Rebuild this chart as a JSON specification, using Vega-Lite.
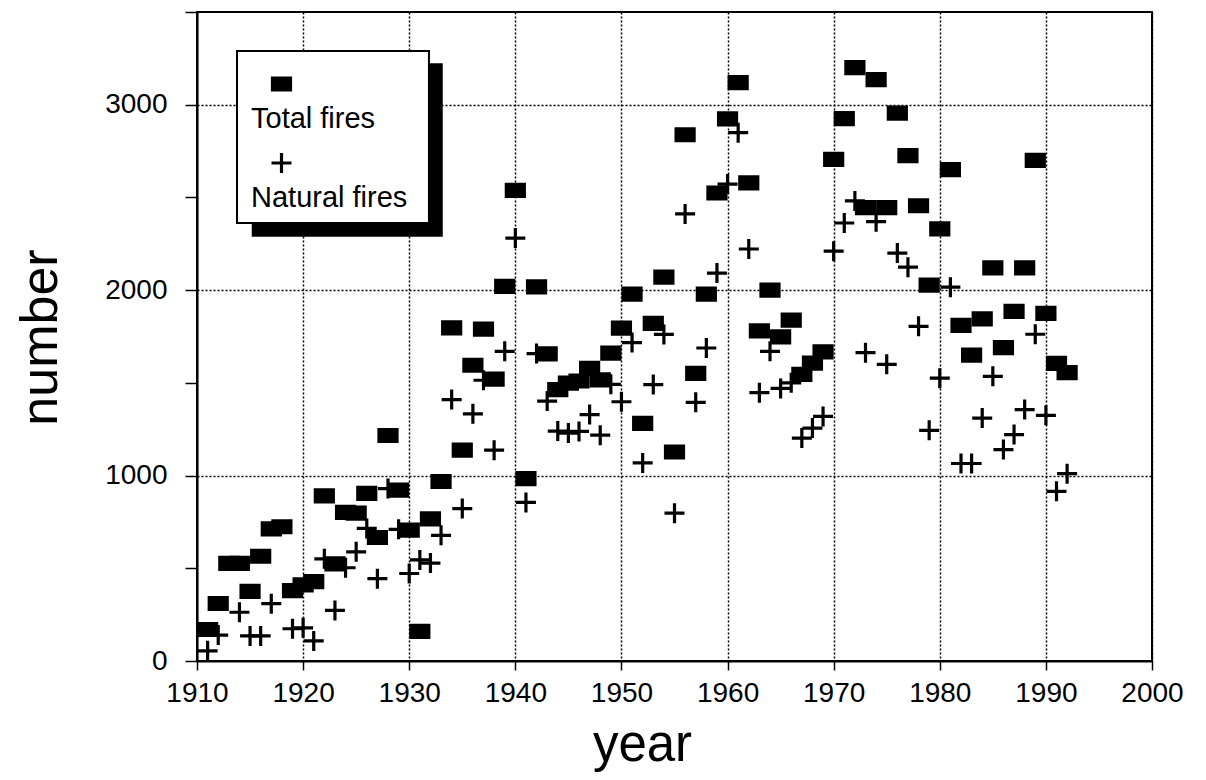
{
  "$schema": "https://vega.github.io/schema/vega-lite/v6.json",
  "width": 955,
  "height": 649,
  "autosize": {"type": "none"},
  "padding": {"left": 197, "top": 12, "right": 54, "bottom": 119},
  "background": "white",
  "config": {
    "view": {"stroke": "black", "strokeWidth": 2},
    "font": "Liberation Sans"
  },
  "datasets": {
    "fires": [
      {"year": 1911, "series": "Natural fires", "value": 55},
      {"year": 1912, "series": "Natural fires", "value": 140},
      {"year": 1914, "series": "Natural fires", "value": 263},
      {"year": 1915, "series": "Natural fires", "value": 135},
      {"year": 1916, "series": "Natural fires", "value": 135},
      {"year": 1917, "series": "Natural fires", "value": 309},
      {"year": 1919, "series": "Natural fires", "value": 174},
      {"year": 1920, "series": "Natural fires", "value": 179},
      {"year": 1921, "series": "Natural fires", "value": 108},
      {"year": 1922, "series": "Natural fires", "value": 551},
      {"year": 1923, "series": "Natural fires", "value": 273},
      {"year": 1924, "series": "Natural fires", "value": 503},
      {"year": 1925, "series": "Natural fires", "value": 589},
      {"year": 1926, "series": "Natural fires", "value": 715},
      {"year": 1927, "series": "Natural fires", "value": 444},
      {"year": 1928, "series": "Natural fires", "value": 930},
      {"year": 1929, "series": "Natural fires", "value": 710},
      {"year": 1930, "series": "Natural fires", "value": 472},
      {"year": 1931, "series": "Natural fires", "value": 545},
      {"year": 1932, "series": "Natural fires", "value": 528},
      {"year": 1933, "series": "Natural fires", "value": 678},
      {"year": 1934, "series": "Natural fires", "value": 1410},
      {"year": 1935, "series": "Natural fires", "value": 822},
      {"year": 1936, "series": "Natural fires", "value": 1333},
      {"year": 1937, "series": "Natural fires", "value": 1514},
      {"year": 1938, "series": "Natural fires", "value": 1137},
      {"year": 1939, "series": "Natural fires", "value": 1670},
      {"year": 1940, "series": "Natural fires", "value": 2281},
      {"year": 1941, "series": "Natural fires", "value": 855},
      {"year": 1942, "series": "Natural fires", "value": 1658},
      {"year": 1943, "series": "Natural fires", "value": 1402},
      {"year": 1944, "series": "Natural fires", "value": 1240},
      {"year": 1945, "series": "Natural fires", "value": 1229},
      {"year": 1946, "series": "Natural fires", "value": 1238},
      {"year": 1947, "series": "Natural fires", "value": 1329},
      {"year": 1948, "series": "Natural fires", "value": 1218},
      {"year": 1949, "series": "Natural fires", "value": 1492},
      {"year": 1950, "series": "Natural fires", "value": 1398},
      {"year": 1951, "series": "Natural fires", "value": 1717},
      {"year": 1952, "series": "Natural fires", "value": 1068},
      {"year": 1953, "series": "Natural fires", "value": 1491},
      {"year": 1954, "series": "Natural fires", "value": 1761},
      {"year": 1955, "series": "Natural fires", "value": 797},
      {"year": 1956, "series": "Natural fires", "value": 2411},
      {"year": 1957, "series": "Natural fires", "value": 1395},
      {"year": 1958, "series": "Natural fires", "value": 1688},
      {"year": 1959, "series": "Natural fires", "value": 2092},
      {"year": 1960, "series": "Natural fires", "value": 2572},
      {"year": 1961, "series": "Natural fires", "value": 2849},
      {"year": 1962, "series": "Natural fires", "value": 2222},
      {"year": 1963, "series": "Natural fires", "value": 1447},
      {"year": 1964, "series": "Natural fires", "value": 1670},
      {"year": 1965, "series": "Natural fires", "value": 1470},
      {"year": 1966, "series": "Natural fires", "value": 1500},
      {"year": 1967, "series": "Natural fires", "value": 1202},
      {"year": 1968, "series": "Natural fires", "value": 1256},
      {"year": 1969, "series": "Natural fires", "value": 1319},
      {"year": 1970, "series": "Natural fires", "value": 2210},
      {"year": 1971, "series": "Natural fires", "value": 2362},
      {"year": 1972, "series": "Natural fires", "value": 2481},
      {"year": 1973, "series": "Natural fires", "value": 1663},
      {"year": 1974, "series": "Natural fires", "value": 2369},
      {"year": 1975, "series": "Natural fires", "value": 1600},
      {"year": 1976, "series": "Natural fires", "value": 2200},
      {"year": 1977, "series": "Natural fires", "value": 2124},
      {"year": 1978, "series": "Natural fires", "value": 1805},
      {"year": 1979, "series": "Natural fires", "value": 1244},
      {"year": 1980, "series": "Natural fires", "value": 1525},
      {"year": 1981, "series": "Natural fires", "value": 2016},
      {"year": 1982, "series": "Natural fires", "value": 1065},
      {"year": 1983, "series": "Natural fires", "value": 1065},
      {"year": 1984, "series": "Natural fires", "value": 1310},
      {"year": 1985, "series": "Natural fires", "value": 1535},
      {"year": 1986, "series": "Natural fires", "value": 1140},
      {"year": 1987, "series": "Natural fires", "value": 1221},
      {"year": 1988, "series": "Natural fires", "value": 1356},
      {"year": 1989, "series": "Natural fires", "value": 1762},
      {"year": 1990, "series": "Natural fires", "value": 1325},
      {"year": 1991, "series": "Natural fires", "value": 915},
      {"year": 1992, "series": "Natural fires", "value": 1010},
      {"year": 1911, "series": "Total fires", "value": 170},
      {"year": 1912, "series": "Total fires", "value": 310},
      {"year": 1913, "series": "Total fires", "value": 527},
      {"year": 1914, "series": "Total fires", "value": 527},
      {"year": 1915, "series": "Total fires", "value": 376},
      {"year": 1916, "series": "Total fires", "value": 565},
      {"year": 1917, "series": "Total fires", "value": 713},
      {"year": 1918, "series": "Total fires", "value": 724},
      {"year": 1919, "series": "Total fires", "value": 380},
      {"year": 1920, "series": "Total fires", "value": 410},
      {"year": 1921, "series": "Total fires", "value": 428},
      {"year": 1922, "series": "Total fires", "value": 890},
      {"year": 1923, "series": "Total fires", "value": 524},
      {"year": 1924, "series": "Total fires", "value": 801},
      {"year": 1925, "series": "Total fires", "value": 798},
      {"year": 1926, "series": "Total fires", "value": 904},
      {"year": 1927, "series": "Total fires", "value": 666},
      {"year": 1928, "series": "Total fires", "value": 1216},
      {"year": 1929, "series": "Total fires", "value": 922},
      {"year": 1930, "series": "Total fires", "value": 706},
      {"year": 1931, "series": "Total fires", "value": 160},
      {"year": 1932, "series": "Total fires", "value": 766},
      {"year": 1933, "series": "Total fires", "value": 968},
      {"year": 1934, "series": "Total fires", "value": 1797},
      {"year": 1935, "series": "Total fires", "value": 1137},
      {"year": 1936, "series": "Total fires", "value": 1595},
      {"year": 1937, "series": "Total fires", "value": 1790},
      {"year": 1938, "series": "Total fires", "value": 1520},
      {"year": 1939, "series": "Total fires", "value": 2020},
      {"year": 1940, "series": "Total fires", "value": 2538},
      {"year": 1941, "series": "Total fires", "value": 984},
      {"year": 1942, "series": "Total fires", "value": 2018},
      {"year": 1943, "series": "Total fires", "value": 1656},
      {"year": 1944, "series": "Total fires", "value": 1464},
      {"year": 1945, "series": "Total fires", "value": 1499},
      {"year": 1946, "series": "Total fires", "value": 1510},
      {"year": 1947, "series": "Total fires", "value": 1578},
      {"year": 1948, "series": "Total fires", "value": 1516},
      {"year": 1949, "series": "Total fires", "value": 1660},
      {"year": 1950, "series": "Total fires", "value": 1795},
      {"year": 1951, "series": "Total fires", "value": 1979},
      {"year": 1952, "series": "Total fires", "value": 1282},
      {"year": 1953, "series": "Total fires", "value": 1821},
      {"year": 1954, "series": "Total fires", "value": 2070},
      {"year": 1955, "series": "Total fires", "value": 1127},
      {"year": 1956, "series": "Total fires", "value": 2838},
      {"year": 1957, "series": "Total fires", "value": 1551},
      {"year": 1958, "series": "Total fires", "value": 1979},
      {"year": 1959, "series": "Total fires", "value": 2524},
      {"year": 1960, "series": "Total fires", "value": 2924},
      {"year": 1961, "series": "Total fires", "value": 3119},
      {"year": 1962, "series": "Total fires", "value": 2578},
      {"year": 1963, "series": "Total fires", "value": 1780},
      {"year": 1964, "series": "Total fires", "value": 2000},
      {"year": 1965, "series": "Total fires", "value": 1748},
      {"year": 1966, "series": "Total fires", "value": 1838},
      {"year": 1967, "series": "Total fires", "value": 1546},
      {"year": 1968, "series": "Total fires", "value": 1606},
      {"year": 1969, "series": "Total fires", "value": 1667},
      {"year": 1970, "series": "Total fires", "value": 2705},
      {"year": 1971, "series": "Total fires", "value": 2925},
      {"year": 1972, "series": "Total fires", "value": 3200},
      {"year": 1973, "series": "Total fires", "value": 2445},
      {"year": 1974, "series": "Total fires", "value": 3135},
      {"year": 1975, "series": "Total fires", "value": 2445},
      {"year": 1976, "series": "Total fires", "value": 2955},
      {"year": 1977, "series": "Total fires", "value": 2725},
      {"year": 1978, "series": "Total fires", "value": 2455},
      {"year": 1979, "series": "Total fires", "value": 2027},
      {"year": 1980, "series": "Total fires", "value": 2330},
      {"year": 1981, "series": "Total fires", "value": 2650},
      {"year": 1982, "series": "Total fires", "value": 1810},
      {"year": 1983, "series": "Total fires", "value": 1650},
      {"year": 1984, "series": "Total fires", "value": 1845},
      {"year": 1985, "series": "Total fires", "value": 2120},
      {"year": 1986, "series": "Total fires", "value": 1690},
      {"year": 1987, "series": "Total fires", "value": 1885},
      {"year": 1988, "series": "Total fires", "value": 2120},
      {"year": 1989, "series": "Total fires", "value": 2700},
      {"year": 1990, "series": "Total fires", "value": 1875},
      {"year": 1991, "series": "Total fires", "value": 1605},
      {"year": 1992, "series": "Total fires", "value": 1555}
    ]
  },
  "layer": [
    {
      "data": {"name": "fires"},
      "mark": {"type": "point", "filled": true, "fill": "black", "stroke": "black", "strokeWidth": 3.2, "opacity": 1, "size": 400},
      "encoding": {
        "x": {
          "field": "year", "type": "quantitative", "title": "year",
          "scale": {"domain": [1910, 2000], "nice": false, "zero": false},
          "axis": {
            "values": [1910, 1920, 1930, 1940, 1950, 1960, 1970, 1980, 1990, 2000],
            "format": "d",
            "title": "year",
            "titleFont": "Liberation Sans", "titleFontSize": 51, "titleFontWeight": "normal", "titleColor": "black",
            "titleX": 445, "titleY": 99, "titleAlign": "center", "titleBaseline": "alphabetic",
            "labelFont": "Liberation Sans", "labelFontSize": 28, "labelColor": "black", "labelPadding": 9,
            "labelOverlap": false, "labelFlush": false,
            "tickColor": "black", "tickSize": 9, "tickWidth": 1.5,
            "domainColor": "black", "domainWidth": 2,
            "grid": true, "gridColor": "black", "gridDash": [2, 2], "gridWidth": 1.5, "gridOpacity": 1
          }
        },
        "y": {
          "field": "value", "type": "quantitative", "title": "number",
          "scale": {"domain": [0, 3500], "nice": false},
          "axis": {
            "values": [0, 500, 1000, 1500, 2000, 2500, 3000, 3500],
            "format": "d",
            "labelExpr": "datum.value % 1000 === 0 ? datum.label : ''",
            "title": "number",
            "titleFont": "Liberation Sans", "titleFontSize": 52, "titleFontWeight": "normal", "titleColor": "black",
            "titleX": -141, "titleY": 325, "titleAlign": "center", "titleBaseline": "alphabetic", "titleAngle": 270,
            "labelFont": "Liberation Sans", "labelFontSize": 28, "labelColor": "black", "labelPadding": 18,
            "labelOverlap": false, "labelFlush": false,
            "tickColor": "black", "tickSize": 12, "tickWidth": 1.5,
            "domainColor": "black", "domainWidth": 2,
            "grid": true, "gridColor": "black", "gridDash": [2, 2], "gridWidth": 1.5,
            "gridOpacity": {"condition": {"test": "datum.value % 1000 === 0 && datum.value > 0 && datum.value < 3500", "value": 1}, "value": 0}
          }
        },
        "shape": {
          "field": "series", "type": "nominal",
          "scale": {
            "domain": ["Total fires", "Natural fires"],
            "range": ["M-0.9,-0.6L0.9,-0.6L0.9,0.6L-0.9,0.6Z", "M-1,0L1,0M0,-1L0,1"]
          },
          "legend": {
            "orient": "none", "legendX": 70, "legendY": 57.5,
            "title": null, "padding": 0,
            "labelFont": "Liberation Sans", "labelFontSize": 29, "labelColor": "black",
            "labelOffset": 0, "labelBaseline": "alphabetic", "labelLimit": 400,
            "rowPadding": 12,
            "symbolSize": 400, "symbolStrokeWidth": 3, "symbolFillColor": "black", "symbolStrokeColor": "black", "symbolOpacity": 1,
            "encoding": {
              "symbols": {"stroke": {"value": "black"}, "strokeWidth": {"value": 3.2}, "fill": {"value": "black"}, "opacity": {"value": 1}},
              "labels": {"dx": {"value": -45}, "dy": {"value": 44}}
            }
          }
        }
      }
    },
    {
      "data": {"values": [{}]},
      "mark": {"type": "rect", "fill": "black"},
      "encoding": {
        "x": {"datum": 1915.16, "type": "quantitative", "scale": {"domain": [1910, 2000], "nice": false, "zero": false}},
        "x2": {"datum": 1933.16},
        "y": {"datum": 3223, "type": "quantitative", "scale": {"domain": [0, 3500], "nice": false}},
        "y2": {"datum": 2288}
      }
    },
    {
      "data": {"values": [{}]},
      "mark": {"type": "rect", "fill": "white", "stroke": "black", "strokeWidth": 2},
      "encoding": {
        "x": {"datum": 1913.77, "type": "quantitative", "scale": {"domain": [1910, 2000], "nice": false, "zero": false}},
        "x2": {"datum": 1931.86},
        "y": {"datum": 3290, "type": "quantitative", "scale": {"domain": [0, 3500], "nice": false}},
        "y2": {"datum": 2362}
      }
    }
  ]
}
